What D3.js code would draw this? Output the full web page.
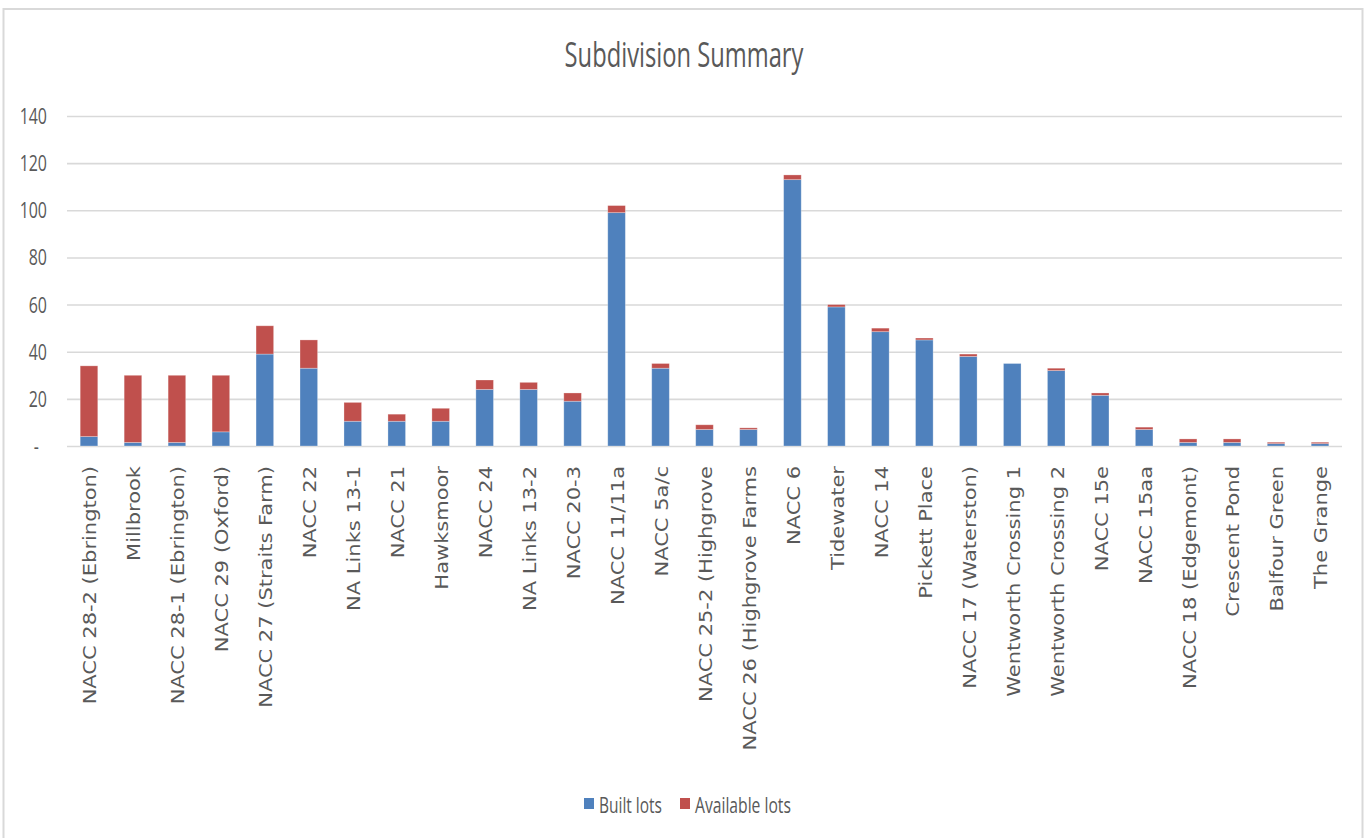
<!DOCTYPE html>
<html lang="en">
<head>
    <meta charset="UTF-8">
    <script src="https://d3js.org/d3.v7.min.js"></script>
    <title>Subdivision Summary</title>
    <style>
        body {
            margin: 0;
            overflow: hidden;
            background: white;
        }
        text {
            fill: #595959;
        }
    </style>
</head>
<body>
    <script>
        const width = 1364,
              height = 838;

        // data
        const subdivisions = [
            "NACC 28-2 (Ebrington)", "Millbrook", "NACC 28-1 (Ebrington)", "NACC 29 (Oxford)",
            "NACC 27 (Straits Farm)", "NACC 22", "NA Links 13-1", "NACC 21", "Hawksmoor",
            "NACC 24", "NA Links 13-2", "NACC 20-3", "NACC 11/11a", "NACC 5a/c",
            "NACC 25-2 (Highgrove", "NACC 26 (Highgrove Farms", "NACC 6", "Tidewater",
            "NACC 14", "Pickett Place", "NACC 17 (Waterston)", "Wentworth Crossing 1",
            "Wentworth Crossing 2", "NACC 15e", "NACC 15aa", "NACC 18 (Edgemont)",
            "Crescent Pond", "Balfour Green", "The Grange"
        ];
        const builtLots = [4, 1.5, 1.5, 6, 39, 33, 10.5, 10.5, 10.5, 24, 24, 19, 99, 33,
                           7, 7, 113, 59, 48.5, 45, 38, 35, 32, 21.5, 7, 1.5, 1.5, 1, 1];
        const availableLots = [30, 28.5, 28.5, 24, 12, 12, 8, 3, 5.5, 4, 3, 3.5, 3, 2,
                               2, 0.7, 2, 1, 1.5, 0.8, 1, 0, 1, 1, 1, 1.5, 1.5, 0.6, 0.6];
        const seriesNames = ["Built lots", "Available lots"];
        const yTickValues = [0, 20, 40, 60, 80, 100, 120, 140];

        const rows = subdivisions.map((name, i) => ({
            name: name,
            "Built lots": builtLots[i],
            "Available lots": availableLots[i]
        }));

        const margin = { top: 116, left: 67, right: 22, bottom: 392 };

        const svg = d3.select('body')
            .append('svg')
            .attr('width', width)
            .attr('height', height);

        // chart frame
        svg.append('rect')
            .attr('x', 3.5)
            .attr('y', 9)
            .attr('width', 1359)
            .attr('height', 850)
            .attr('fill', 'white')
            .attr('stroke', '#d9d9d9')
            .attr('stroke-width', 2);

        const x = d3.scaleBand()
            .domain(subdivisions)
            .range([margin.left, width - margin.right])
            .paddingInner(0.6)
            .paddingOuter(0.3);

        const y = d3.scaleLinear()
            .domain([0, 140])
            .range([height - margin.bottom, margin.top]);

        const color = d3.scaleOrdinal()
            .domain(seriesNames)
            .range(["#4f81bd", "#c0504d"]);

        // gridlines
        const grid = svg.append('g')
            .attr('transform', `translate(${margin.left}, 0)`)
            .call(d3.axisLeft(y)
                .tickValues(yTickValues)
                .tickSize(-(width - margin.left - margin.right))
                .tickFormat(''));
        grid.select('.domain').remove();
        grid.selectAll('.tick line')
            .attr('stroke', '#d9d9d9')
            .attr('stroke-width', 1.6);

        // stacked bars
        const stacked = d3.stack().keys(seriesNames)(rows);

        svg.append('g')
            .selectAll('g')
            .data(stacked)
            .join('g')
            .attr('fill', d => color(d.key))
            .selectAll('rect')
            .data(d => d)
            .join('rect')
            .attr('x', d => x(d.data.name))
            .attr('width', x.bandwidth())
            .attr('y', d => y(d[1]))
            .attr('height', d => Math.max(0, y(d[0]) - y(d[1])))
            .attr('stroke', 'rgba(255,255,255,0.35)')
            .attr('stroke-width', 0.8);

        // y axis labels
        const yAxis = svg.append('g')
            .attr('transform', `translate(${margin.left}, 0)`)
            .call(d3.axisLeft(y)
                .tickValues(yTickValues)
                .tickSize(0)
                .tickFormat(d => d === 0 ? '-' : d));
        yAxis.select('.domain').remove();
        yAxis.selectAll('.tick text')
            .attr('x', null)
            .attr('dy', '0.36em')
            .attr('transform', d => `translate(${d === 0 ? -28 : -20}, 0) scale(0.76, 1)`)
            .attr('fill', '#595959')
            .style('font-family', '"Open Sans", sans-serif')
            .style('font-size', '21px');

        // x axis labels
        const xAxis = svg.append('g')
            .attr('transform', `translate(0, ${height - margin.bottom})`)
            .call(d3.axisBottom(x).tickSize(0));
        xAxis.select('.domain').remove();
        xAxis.selectAll('.tick text')
            .attr('y', null)
            .attr('dy', null)
            .attr('transform', 'translate(1.5, 20) scale(0.8, 1) rotate(-90)')
            .attr('dy', '0.35em')
            .attr('text-anchor', 'end')
            .attr('fill', '#595959')
            .style('font-family', '"DejaVu Sans", sans-serif')
            .style('font-size', '21px');

        // squeeze plain text to a given width
        const fitWidth = (sel, w) => {
            const len = sel.node().getComputedTextLength();
            const cx = +sel.attr('data-x'), cy = +sel.attr('data-y');
            sel.attr('transform', `translate(${cx}, ${cy}) scale(${w / len}, 1)`);
        };

        const title = svg.append('text')
            .attr('data-x', 684)
            .attr('data-y', 67)
            .attr('text-anchor', 'middle')
            .style('font-family', '"Open Sans", sans-serif')
            .style('font-size', '34px')
            .text('Subdivision Summary');
        fitWidth(title, 239);

        // legend
        const legendItems = [
            { key: "Built lots", sx: 584, tx: 599, tw: 63 },
            { key: "Available lots", sx: 680, tx: 695, tw: 96 }
        ];

        const legend = svg.append('g');
        legendItems.forEach(item => {
            legend.append('rect')
                .attr('x', item.sx)
                .attr('y', 798)
                .attr('width', 10)
                .attr('height', 11)
                .attr('fill', color(item.key));
            const t = legend.append('text')
                .attr('data-x', item.tx)
                .attr('data-y', 812.5)
                .style('font-family', '"Open Sans", sans-serif')
                .style('font-size', '21px')
                .text(item.key);
            fitWidth(t, item.tw);
        });
    </script>
</body>
</html>
